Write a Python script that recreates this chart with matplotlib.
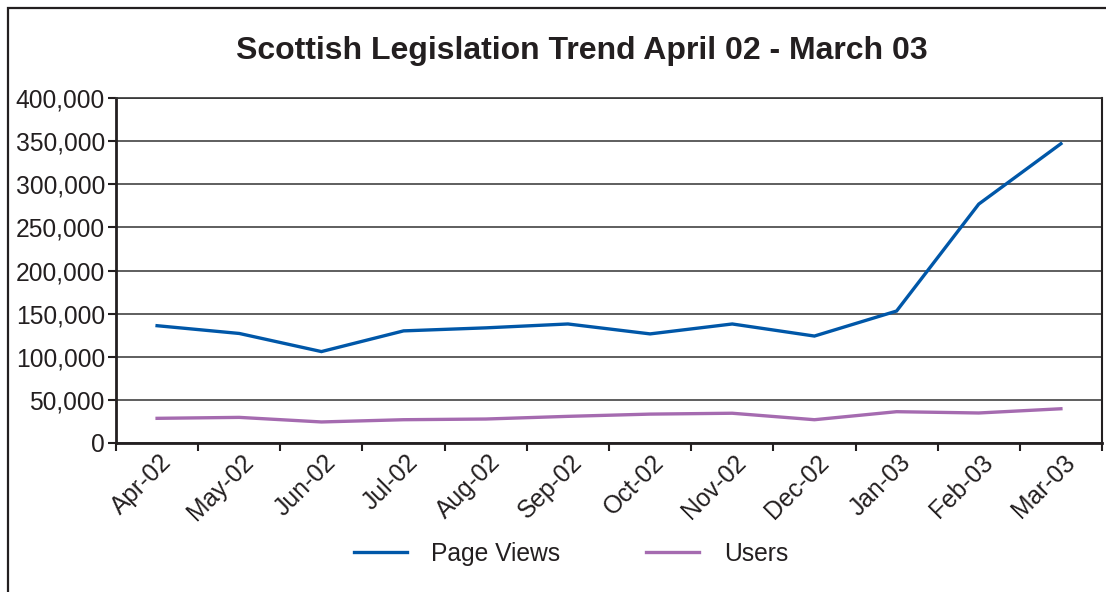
import numpy as np
import matplotlib.pyplot as plt
from matplotlib.ticker import FuncFormatter
from matplotlib.patches import Rectangle
from matplotlib.transforms import ScaledTranslation

plt.rcParams['font.family'] = ['Liberation Sans', 'DejaVu Sans']

months = ['Apr-02', 'May-02', 'Jun-02', 'Jul-02', 'Aug-02', 'Sep-02',
          'Oct-02', 'Nov-02', 'Dec-02', 'Jan-03', 'Feb-03', 'Mar-03']
page_views = [136000, 127000, 106000, 130000, 133500, 138000,
              126500, 138000, 124000, 153000, 277000, 347000]
users = [28600, 29700, 24400, 27000, 27800, 30900,
         33500, 34500, 27000, 36300, 34800, 39700]

text_col = '#231f20'
blue = '#0057a8'
purple = '#a56bb0'
fs = 17.7

fig = plt.figure(figsize=(11.06, 5.92), dpi=100)
ax = fig.add_axes([116/1106, 1-443/592, (1102-116)/1106, (443-98)/592])

x = np.arange(len(months))
ax.plot(x, page_views, color=blue, lw=2.4, label='Page Views', solid_joinstyle='miter')
ax.plot(x, users, color=purple, lw=2.4, label='Users', solid_joinstyle='miter')

ax.set_ylim(0, 400000)
ax.set_xlim(-0.5, len(months) - 0.5)
ax.set_yticks(np.arange(0, 400001, 50000))
ax.yaxis.set_major_formatter(FuncFormatter(lambda v, p: f'{int(v):,}'))
ax.grid(axis='y', color='#333333', lw=1.1)
ax.set_axisbelow(True)

# ticks on category boundaries, labels at centres
ax.set_xticks(np.arange(-0.5, len(months), 1.0))
ax.set_xticklabels([])
ax.set_xticks(x, minor=True)
ax.set_xticklabels(months, minor=True, rotation=45, ha='right',
                   rotation_mode='anchor', fontsize=fs, color=text_col)
ax.tick_params(axis='x', which='minor', length=0, pad=5)
ax.tick_params(axis='x', which='major', length=6, width=1.5, color=text_col)
ax.tick_params(axis='y', length=6, width=1.5, color=text_col,
               labelsize=fs, labelcolor=text_col, pad=2)
shift = ScaledTranslation(2/100, 0, fig.dpi_scale_trans)
for lbl in ax.get_xticklabels(minor=True):
    lbl.set_transform(lbl.get_transform() + shift)

for side in ['left', 'bottom']:
    ax.spines[side].set_linewidth(2)
    ax.spines[side].set_color(text_col)
ax.spines['right'].set_linewidth(1.5)
ax.spines['right'].set_color(text_col)
ax.spines['top'].set_linewidth(1.2)
ax.spines['top'].set_color('#333333')

fig.text(582/1106, 1-51/592, 'Scottish Legislation Trend April 02 - March 03',
         ha='center', va='center', fontsize=23, fontweight='bold', color=text_col)

fig.legend(loc='center', bbox_to_anchor=(571/1106, 1-554/592), ncol=2,
           frameon=False, fontsize=fs, handlelength=2.15, columnspacing=3.5,
           labelcolor=text_col, handletextpad=1.0)

fig.patches.append(Rectangle((8/1106, -0.05), 1.2, 1-8/592+0.05,
                             transform=fig.transFigure, fill=False,
                             edgecolor=text_col, lw=1.6))

fig.savefig('out.png', dpi=100)
